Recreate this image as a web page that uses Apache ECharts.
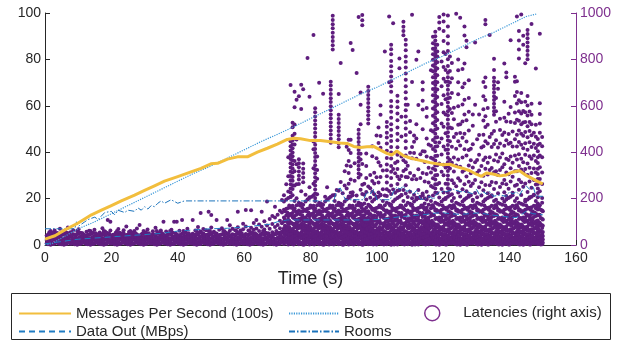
<!DOCTYPE html>
<html>
<head>
<meta charset="utf-8">
<script src="https://cdn.jsdelivr.net/npm/echarts@6/dist/echarts.min.js"></script>
<style>html,body{margin:0;padding:0;background:#fff;}#c{width:625px;height:345px;}</style>
</head>
<body>
<div id="c"></div>
<script>
// ---- Data ----
const xTicks = [0, 20, 40, 60, 80, 100, 120, 140, 160];
const msgTime = [0,3,6,10,14,17,20,23,27,30,33,36,40,44,47,50,52,55,58,61,64,67,70,73,75,77,80,83,86,89,91,93,95,97,99,101,103,104.5,106,108,110,112,114,116,118,120,122,124,126,128,130,131.5,133,135,137,139,141,143,145,147,148.5,150];
const msgValues = [2.5,4,6.5,9.5,13,15,17,19,21.5,23.5,25.5,27.5,29.5,31.5,33,35,35.2,37,38,38,40,41.7,43.5,45.5,46,45.8,45,45,44.5,44,43.8,42.5,42,42.3,42.5,41,39.5,38.8,40.5,38.5,37.5,36.8,36.2,35.5,35,34.6,34.8,33.8,33,32,30.5,29.6,31,30.6,29.8,30.2,31.5,32,30,28.5,27.3,26.3];

const dataOutTime = [0,5,10,15,20,25,30,35,40,45,50,55,60,65,68,70,73,80,90,97,100,102,105,107,110,113,115,118,120,122,125,128,131,134,137,140,142,144,145,147,149,150];
const dataOutValues = [0.5,1.5,2.5,3,3.5,4,4.5,5,6,6.5,7,7.2,7.8,8.5,9,10,10.8,10.8,10.8,10.8,11,11.2,11.8,12.2,12.5,13,13.2,13.8,13.9,13.5,13.2,13.5,13.9,13,12.5,12,11.8,13.5,14.6,13.5,13.2,13];

const botsTime = [0,2,5,10,15,20,25,30,35,40,45,50,55,60,65,70,75,80,85,90,95,100,105,110,115,120,125,130,135,140,145,148];
const botsValues = [0,0.5,3,7,10,13.5,17,20.5,24,27.5,31,34,37.5,41,44.5,47.7,51,54.5,58,61.5,65,68,71.5,75,78.5,81.5,85,88.5,91.5,95,98.5,99.5];

const roomsTime = [0,9,9.5,10,12,13,15,16,18,20,21,22,24,25,27,28,29,30,31,32,33,34,35,36,38,40,42,87,88,89,90.5,96,97,98,99,100,104,105,106,107,108,109,110,111,112,113,114,116,117,118,119,121,123,125,127,129,130,131,132,133,134,135,137,139,140,141,142,143,144,145,146,147,148,150];
const roomsValues = [7,7,10,8,10,11,12,11,14,14.5,13,15,14,15,14.5,16,15,16.5,15.5,17,16.5,18,19,18,19.5,18,19,19,24,24.5,19.5,19.5,23,22,24,19.5,19.5,23,25,24,25.5,23,24,22,23.5,20,19.5,21,19.5,22,23,23,24,23,23,22,24,21.5,23,22,23,21,21.5,21,23,22,23,21.5,24,25.5,24,25.5,21,21];

// Latencies (right axis). Early band: [time, [latencies]]
const latencyEarly = [
[0.5,[8,22,41]],[1.3,[5,18,35,55]],[2.1,[12,30,48]],[2.9,[6,25,40,62]],[3.7,[15,33,52]],[4.5,[4,20,38,70]],
[5.3,[10,28,45]],[6.1,[7,24,42,58]],[6.9,[14,31,50,75]],[7.7,[5,19,37,55]],[8.5,[11,27,46,64]],[9.3,[8,23,40]],
[10.1,[13,30,49,68]],[10.9,[6,21,36,52]],[11.7,[12,29,44]],[12.5,[4,18,33,57]],[13.3,[9,26,43,61]],[14.1,[15,31,48]],
[14.9,[7,22,39,66]],[15.7,[11,28,45]],[16.5,[5,19,35,54]],[17.3,[13,30,47,72]],[18.1,[8,24,41,58]],[18.9,[14,32,50,108]],
[19.7,[6,21,38,62,100]],[20.5,[10,27,44]],[21.3,[4,17,34,53]],[22.1,[12,29,46,69]],[22.9,[7,23,40]],[23.7,[15,33,51,64]],
[24.5,[9,25,42,80]],[25.3,[5,20,37,56]],[26.1,[13,30,47]],[26.9,[8,24,41,60]],[27.7,[11,28,45,71]],[28.5,[6,21,39,86]],
[29.3,[14,31,49]],[30.1,[4,18,35,55]],[30.9,[10,26,43,67]],[31.7,[7,23,40]],[32.5,[12,29,46,59]],[33.3,[5,20,37,74]],
[34.1,[15,32,50]],[34.9,[8,24,42,63]],[35.7,[11,27,44,100]],[36.5,[6,22,39,58]],[37.3,[13,30,48]],[38.1,[9,25,43,66]],
[38.9,[4,19,36,100]],[39.7,[12,28,46,100]],[40.5,[7,23,41,61]],[41.3,[14,31,49,108]],[42.1,[5,20,38,57]],[42.9,[10,27,45,70]],
[43.7,[8,24,42]],[44.5,[13,30,48,108]],[45.3,[6,21,39,62]],[46.1,[11,28,46,78]],[46.9,[4,19,37,58,138]],[47.7,[15,32,51,69]],
[48.5,[9,25,43,64]],[49.3,[7,22,40,60,143]],[50.1,[12,29,47,75,129]],[50.9,[5,20,38,57]],[51.7,[14,31,50,108]],[52.5,[8,24,42,66]],
[53.3,[10,27,45,72]],[54.1,[6,22,40,59]],[54.9,[13,30,48,108]],[55.7,[4,19,37,61,85]],[56.5,[11,28,46,70]],[57.3,[7,23,41,64]],
[58.1,[15,32,50,77,143]],[58.9,[9,25,43,62]],[59.7,[5,21,39,68,92]],[60.5,[12,29,47,80,151]],[61.3,[8,24,42,63]],[62.1,[14,31,49,74,150]],
[62.9,[6,22,40,66,95]],[63.7,[10,27,45,71,108]],[64.5,[4,19,38,60,88]],[65.3,[13,30,48,79,143]],[66.1,[7,24,43,67,102]],[66.9,[11,29,50,84,187]],
[67.7,[5,21,41,70,112]],[68.5,[14,33,55,90,125]],[69.3,[8,26,47,78,118,165]],[70.1,[12,31,53,86,130]],[70.8,[6,23,44,72,105,148]],[71.4,[15,35,58,94,140,194]]
];

// Extra early-band dots between the columns above
const eA = [3,16,29,44], eB = [10,22,37,51], eC = [1,13,27,47,60], eD = [7,19,33,41], eE = [4,25,35,53];
const latencyEarlyFill = [
[0.9,eA],[1.7,eC],[2.5,eE],[3.3,eB],[4.1,eD],[4.9,eA],[5.7,eC],[6.5,eE],[7.3,eB],[8.1,eD],
[8.9,eA],[9.7,eC],[10.5,eE],[11.3,eB],[12.1,eD],[12.9,eA],[13.7,eC],[14.5,eE],[15.3,eB],[16.1,eD],
[16.9,eA],[17.7,eC],[18.5,eE],[19.3,eB],[20.1,eD],[20.9,eA],[21.7,eC],[22.5,eE],[23.3,eB],[24.1,eD],
[24.9,eA],[25.7,eC],[26.5,eE],[27.3,eB],[28.1,eD],[28.9,eA],[29.7,eC],[30.5,eE],[31.3,eB],[32.1,eD],
[32.9,eA],[33.7,eC],[34.5,eE],[35.3,eB],[36.1,eD],[36.9,eA],[37.7,eC],[38.5,eE],[39.3,eB],[40.1,eD],
[40.9,eA],[41.7,eC],[42.5,eE],[43.3,eB],[44.1,eD],[44.9,eA],[45.7,eC],[46.5,eE],[47.3,eB],[48.1,eD],
[48.9,eA],[49.7,eC],[50.5,eE],[51.3,eB],[52.1,eD],[52.9,eA],[53.7,eC],[54.5,eE],[55.3,eB],[56.1,eD],
[56.9,eA],[57.7,eC],[58.5,eE],[59.3,eB],[60.1,eD],[60.9,eA],[61.7,eC],[62.5,eE],[63.3,eB],[64.1,eD],
[64.9,eA],[65.7,eC],[66.5,eE],[67.3,eB],[68.1,eD],[68.9,eA],[69.7,eC],[70.5,eE],[71.1,eB]
];

// Later dense region: low part of each column (latency below ~215)
const lowA = [4,18,27,49,66,72,101,118,152,187];
const lowB = [11,23,41,58,84,96,130,171];
const lowC = [2,15,33,45,62,90,109,124,160,203];
const lowD = [8,29,38,54,77,88,115,143,178];
const lowE = [6,20,31,52,69,93,121,138,169,214];
const lowF = [13,25,44,61,80,104,127,156,196];
const lowG = [3,17,36,47,73,85,112,149,182];
const lowH = [9,22,40,57,68,98,134,163,208];
const lowI = [1,14,28,43,64,79,107,119,145,174];
const lowJ = [7,19,35,50,75,91,125,158,190];
const blob1 = [4,12,21,30,39,48,57,66,75,84,94,106,128,153,179];
const blob2 = [8,16,25,34,43,52,61,70,79,89,99,114,138,161,196];
const blob3 = [3,11,20,29,38,47,56,65,74,83,93,104,119,145,173];
const blob4 = [7,15,24,33,42,51,60,69,78,88,98,111,134,166,204];

// [time, low part, higher latencies]
const latencyLate = [
[72.0,lowA,[214]],[72.7,lowF,[262]],[73.3,lowC,[231,296,378]],
[74.0,lowH,[207,226,244,262,279,297,316,334,352,371,388,407,426,447,690]],
[74.6,lowE,[241,258,277,293,312,330,347,365,383,399,417,434,452,471,508,527]],
[75.2,lowJ,[257,318,362,433,479,519,594,661]],[75.8,lowB,[201,262,348,455,626]],
[76.5,lowG,[263,282,299,317,335,352,370,641]],[77.2,lowD,[232,586,691]],
[77.8,lowI,[271,291,310,329,351,671]],[78.5,lowA,[217]],[79.1,lowF,[806]],[79.7,lowC,[206,249,639]],
[80.4,lowH,[]],[80.9,lowE,[264,331,413,446,905]],
[81.4,lowJ,[203,222,239,257,274,292,309,327,344,362,379,397,414,432,449,467,484,502,519,537,554,572,589]],
[82.0,lowB,[219,286,323,381]],[82.6,lowG,[699]],[83.2,lowD,[]],[83.8,lowI,[652]],[84.4,lowA,[208]],
[85.0,lowF,[249]],[85.6,lowC,[]],
[86.1,lowH,[441,458,476,493,511,528,546,563,581,598,616,633,651,669,687,704]],
[86.7,lowE,[843,861,879,897,915,934,952,970,988]],
[87.3,lowJ,[215]],[87.9,lowB,[237]],
[88.5,lowG,[234,421,438,456,473,491,508,526,543,561,651]],
[89.1,lowD,[272,784]],[89.7,lowI,[223]],[90.3,lowA,[256,318]],[90.9,lowF,[244,343,423]],
[91.5,lowC,[209,264,310,362,409,454]],[92.1,lowH,[225,282,339,397,454,871]],[92.7,lowE,[227,841]],
[93.3,lowJ,[277,352]],[93.9,lowB,[213,741]],
[94.5,lowG,[291,308,325,342,359,376,393,410,427,444,461,478,497,983]],
[95.1,lowD,[238,303,368,393,521,604,657]],[95.6,lowI,[220,260,349,947,969,991]],
[96.2,blob1,[217,264]],[96.8,blob2,[228,289,341,394]],
[97.4,blob3,[252,524,542,559,577,594,612,629,647,664,682]],[98.0,blob4,[245,302]],
[98.6,lowA,[230,276,383,426]],[99.2,lowF,[219,265,311]],[99.9,lowC,[208,292,374,472]],
[100.5,lowH,[226,269,357,440,506]],[101.1,lowE,[217,293,342,419,470,561,601]],[101.8,lowJ,[240,321]],
[102.4,lowB,[213,834]],
[103.0,lowG,[211,240,269,296,322,347,375,406,438,463,484,510,530]],
[103.7,lowD,[233,701,985]],
[104.3,lowI,[220,257,289,316,341,373,399,422,448,471,497,521,549,574,597,621,661,684,706,726,748,770,793,822,844,863]],
[104.9,lowA,[239,328,956]],[105.5,lowF,[225,309,353]],
[106.2,lowC,[234,263,295,328,360,389,421,452,479,507,538,567,594,619,643]],
[106.8,lowH,[237,283,762,804]],[107.4,lowE,[216,297,382,468,553]],
[108.0,lowJ,[237,319,365,904,922,941,962]],
[108.7,lowB,[222,258,293,327,357,386,418,447,474,502,528,554,581,605,632,658,684,712,739,765,790,813,839,863,885]],
[109.3,lowG,[207,292,342,604]],[110.0,lowD,[230,310,398,486,534]],[110.6,lowI,[202,283,374,422,703,992]],
[111.2,lowA,[217,299,397,445,472]],[111.9,lowF,[204,283,372,459,520,798]],[112.5,lowC,[237,326,603,834]],
[113.1,lowH,[203,289,391]],[113.8,lowE,[222,310,404,499,584,622,669,702]],
[114.4,blob1,[201,274,358,403]],[115.0,blob2,[230,306,381,459,553,591]],[115.6,blob3,[209,269,333,433]],
[116.3,lowJ,[254,312,376,428,495,753]],
[116.9,lowB,[213,249,288,330,372,414,453,489,525,557,588,618,646,672,698,723,749,774,798,822,846,870,898]],
[117.6,lowG,[225,243,262,282,301,323,343,364,384,405,424,443,462,480,498,515,532,549,566,582,598,614,629,644,659,674,690,705,721,736,751,766,781,796,811,823,836,849,865,881,900,919]],
[118.2,lowD,[224,262,302,344,385,426,464,502,539,572,605,638,670,701,732,761,788,812,834,863]],
[118.8,lowI,[205,267,351,442,932,959,983]],
[119.5,lowA,[241,316,390,459,524,608,684,791]],
[120.1,lowF,[226,301,346,425,510,571,645,717,767,831,879,922,963,994]],
[120.7,lowC,[198,264,334,411,482,562,628,704,754,823]],
[121.4,lowH,[226,245,263,282,300,319,338,357,376,394,412,431,450,468,486,504,522,541,559,577,596,614,633,651,669,687,705,723,742,772,801,836,869,900,942,989]],
[122.0,lowE,[239,330,367,447,506,586,635,700,750,813]],
[122.6,lowJ,[219,279,354,423,503,569,655,719,785]],
[123.2,lowB,[203,266,317,377,466,542,592]],
[123.9,lowG,[253,343,415,480,997]],
[124.5,lowD,[226,288,368,447,518,598,650,702,753,800]],
[125.1,lowI,[209,277,337,429,483,521,980]],
[125.8,lowA,[240,316,377,462,532,606,680,759]],
[126.4,lowF,[196,262,323,413,479,563,626,696,782,903,942]],
[127.0,lowC,[232,295,386,446,538,852,880]],
[127.7,lowH,[214,273,343,410,493,574,634,710]],
[128.3,lowE,[254,309,365,415]],
[128.9,lowJ,[195,265,334,434,514,563]],
[129.6,lowB,[224,280,357,605,873]],
[130.2,lowG,[206,311,366,456]],
[130.8,lowD,[249,321,389,474,563]],
[131.5,lowI,[213,271,341,420]],
[132.1,lowA,[236,298,366,426,475,537,585,641,703]],
[132.7,lowF,[196,259,329,377,447,509,555,625,681,722,952,970]],
[133.4,lowC,[223,304,354,438,518,590]],
[134.0,lowH,[258,323,378,466,905]],
[134.6,lowE,[209,272,332,422,480]],
[135.3,lowJ,[241,314,365,435,491,561,577,593,609,625,641,657,673,689,705,721,754,803]],
[135.9,lowB,[195,268,318,390,451,531,577,634]],
[136.5,lowG,[223,302,360,420,674,702]],
[137.1,lowD,[250,323,377,437,496,544]],
[137.8,lowI,[200,265,335,394,474]],
[138.4,lowA,[227,280,348,428,485,549,617,782]],
[139.0,lowF,[211,262,312,372,452,532,723,744]],
[139.7,lowC,[242,305,366,436,478,566]],
[140.3,lowH,[274,331,381,441,530,595,883]],
[140.9,lowE,[225,294,354,425,489]],
[141.6,lowJ,[255,318,386,456,526,571,642,704,725]],
[142.2,lowB,[202,260,318,368,425,475,540,610,659,706,985]],
[142.8,lowG,[238,281,341,391,444,493,536,576,624,804,843,882,922]],
[143.5,lowD,[216,270,325,372,432,480,520,567,615,655,993]],
[144.1,lowI,[251,314,357,417,471,528,578,863,902]],
[144.7,lowA,[195,265,328,389,439,487,530,572,617,783]],
[145.4,lowF,[228,302,351,411,464,512,558,601,642,801,819,837,855,873,891,909,927]],
[146.0,lowC,[206,274,333,383,443,491,530,575]],
[146.6,lowH,[247,310,372,422,473,520,561,609,953]],
[147.3,lowE,[217,280,330,386,436,484]],
[147.9,lowJ,[261,312,362,418,467,518,761]],
[148.5,blob1,[206,224,243,263,284,306,329,353,378,404,431,457]],
[149.1,lowB,[232,285,335,386,436,484,524,565,611,911]],
[149.8,lowG,[203,263,313,378,426,466]]
];

// Extra low dots between the later columns
const fA = [10,24,39,56,83,110,146], fB = [5,31,47,66,94,128,161], fC = [16,27,52,71,99,140];
const fD = [2,21,36,60,87,116,152], fE = [12,34,45,78,105,133,170];
const latencyLateFill = [
[72.3,fA],[73.0,fC],[73.6,fE],[74.3,fB],[74.9,fD],[75.5,fA],[76.1,fC],[76.8,fE],[77.5,fB],[78.1,fD],
[78.8,fA],[79.4,fC],[80.0,fE],[80.7,fB],[81.1,fD],[81.7,fA],[82.3,fC],[82.9,fE],[83.5,fB],[84.1,fD],
[84.7,fA],[85.3,fC],[85.9,fE],[86.4,fB],[87.0,fD],[87.6,fA],[88.2,fC],[88.8,fE],[89.4,fB],[90.0,fD],
[90.6,fA],[91.2,fC],[91.8,fE],[92.4,fB],[93.0,fD],[93.6,fA],[94.2,fC],[94.8,fE],[95.4,fB],[95.9,fD],
[96.5,fA],[97.1,fC],[97.7,fE],[98.3,fB],[98.9,fD],[99.5,fA],[100.2,fC],[100.8,fE],[101.4,fB],[102.1,fD],
[102.7,fA],[103.3,fC],[104.0,fE],[104.6,fB],[105.2,fD],[105.8,fA],[106.5,fC],[107.1,fE],[107.7,fB],[108.3,fD],
[109.0,fA],[109.6,fC],[110.3,fE],[110.9,fB],[111.5,fD],[112.2,fA],[112.8,fC],[113.4,fE],[114.1,fB],[114.7,fD],
[115.3,fA],[115.9,fC],[116.6,fE],[117.2,fB],[117.9,fD],[118.5,fA],[119.1,fC],[119.8,fE],[120.4,fB],[121.0,fD],
[121.7,fA],[122.3,fC],[122.9,fE],[123.5,fB],[124.2,fD],[124.8,fA],[125.4,fC],[126.1,fE],[126.7,fB],[127.3,fD],
[128.0,fA],[128.6,fC],[129.2,fE],[129.9,fB],[130.5,fD],[131.1,fA],[131.8,fC],[132.4,fE],[133.0,fB],[133.7,fD],
[134.3,fA],[134.9,fC],[135.6,fE],[136.2,fB],[136.8,fD],[137.4,fA],[138.1,fC],[138.7,fE],[139.3,fB],[140.0,fD],
[140.6,fA],[141.2,fC],[141.9,fE],[142.5,fB],[143.1,fD],[143.8,fA],[144.4,fC],[145.0,fE],[145.7,fB],[146.3,fD],
[146.9,fA],[147.6,fC],[148.2,fE],[148.8,fB],[149.4,fD],[150.0,fA]
];

// ---- Build series data ----
const zip = (xs, ys) => xs.map((x, i) => [x, ys[i]]);
const latencyData = [];
latencyEarly.forEach(([t, vals]) => vals.forEach(v => latencyData.push([t, v])));
latencyEarlyFill.forEach(([t, vals]) => vals.forEach(v => latencyData.push([t, v])));
latencyLate.forEach(([t, low, high]) => low.concat(high).forEach(v => latencyData.push([t, v])));
latencyLateFill.forEach(([t, vals]) => vals.forEach(v => latencyData.push([t, v])));

const FONT = '"Liberation Sans", Arial, Helvetica, sans-serif';
const INK = '#262626';
const PURPLE = '#7E2F8E';
const DOT = '#5f1d7e';

const lineLegend = (name, left, top, w) => ({
  orient: 'vertical', left: left, top: top, itemWidth: w, itemHeight: 14, itemGap: 0,
  textStyle: { fontSize: 15, color: INK, fontFamily: FONT },
  itemStyle: { opacity: 0, borderWidth: 0 },
  data: [name]
});

const chart = echarts.init(document.getElementById('c'), null, { renderer: 'canvas' });
chart.setOption({
  animation: false,
  backgroundColor: '#fff',
  textStyle: { fontFamily: FONT },
  grid: { left: 45, right: 49, top: 13, bottom: 100, containLabel: false },
  xAxis: {
    type: 'value', min: 0, max: 160, interval: 20,
    name: 'Time (s)', nameLocation: 'middle', nameGap: 11,
    nameTextStyle: { fontSize: 18, color: INK, fontFamily: FONT },
    axisLine: { lineStyle: { color: INK, width: 1 } },
    axisTick: { inside: true, length: 5, lineStyle: { color: INK } },
    axisLabel: { fontSize: 14, color: INK, margin: 6, fontFamily: FONT,
      formatter: v => xTicks.includes(v) ? String(v) : '' },
    splitLine: { show: false }
  },
  yAxis: [
    {
      type: 'value', min: 0, max: 100, interval: 20, position: 'left',
      axisLine: { show: true, lineStyle: { color: INK, width: 1 } },
      axisTick: { show: true, inside: true, length: 5, lineStyle: { color: INK } },
      axisLabel: { fontSize: 14, color: INK, margin: 4, fontFamily: FONT },
      splitLine: { show: false }
    },
    {
      type: 'value', min: 0, max: 1000, interval: 200, position: 'right',
      axisLine: { show: true, lineStyle: { color: PURPLE, width: 1 } },
      axisTick: { show: true, inside: true, length: 5, lineStyle: { color: PURPLE } },
      axisLabel: { fontSize: 14, color: PURPLE, margin: 4, fontFamily: FONT, formatter: v => String(v) },
      splitLine: { show: false }
    }
  ],
  graphic: [{
    type: 'rect', z: 0,
    shape: { x: 11.5, y: 293.5, width: 599, height: 46 },
    style: { fill: '#fff', stroke: INK, lineWidth: 1 }
  }],
  legend: [
    lineLegend('Messages Per Second (100s)', 13, 301, 52),
    lineLegend('Data Out (MBps)', 13, 319, 52),
    lineLegend('Bots', 283, 301, 50),
    lineLegend('Rooms', 283, 319, 50),
    {
      orient: 'vertical', left: 419, top: 300, itemWidth: 52, itemHeight: 15, itemGap: 0,
      textStyle: { fontSize: 15, color: INK, fontFamily: FONT },
      data: [{ name: 'Latencies (right axis)', icon: 'circle',
        itemStyle: { color: '#fff', borderColor: PURPLE, borderWidth: 1.5 } }]
    }
  ],
  series: [
    {
      name: 'Latencies (right axis)', type: 'scatter', yAxisIndex: 1,
      symbol: 'circle', symbolSize: 4, z: 1,
      itemStyle: { color: DOT, opacity: 1 },
      data: latencyData
    },
    {
      name: 'Data Out (MBps)', type: 'line', yAxisIndex: 0, symbol: 'none', z: 3,
      lineStyle: { color: '#1f7cc4', width: 1, type: [6, 4] },
      itemStyle: { color: '#1f7cc4' },
      data: zip(dataOutTime, dataOutValues)
    },
    {
      name: 'Bots', type: 'line', yAxisIndex: 0, symbol: 'none', z: 3,
      lineStyle: { color: '#3b98d8', width: 1.2, type: [1.2, 1.2] },
      itemStyle: { color: '#3b98d8' },
      data: zip(botsTime, botsValues)
    },
    {
      name: 'Rooms', type: 'line', yAxisIndex: 0, symbol: 'none', z: 3,
      lineStyle: { color: '#1b73bb', width: 1, type: [6, 2, 1.5, 2] },
      itemStyle: { color: '#1b73bb' },
      data: zip(roomsTime, roomsValues)
    },
    {
      name: 'Messages Per Second (100s)', type: 'line', yAxisIndex: 0, symbol: 'none', z: 4,
      lineStyle: { color: '#f2be3d', width: 3 },
      itemStyle: { color: '#f2be3d' },
      data: zip(msgTime, msgValues)
    }
  ]
});
</script>
</body>
</html>
